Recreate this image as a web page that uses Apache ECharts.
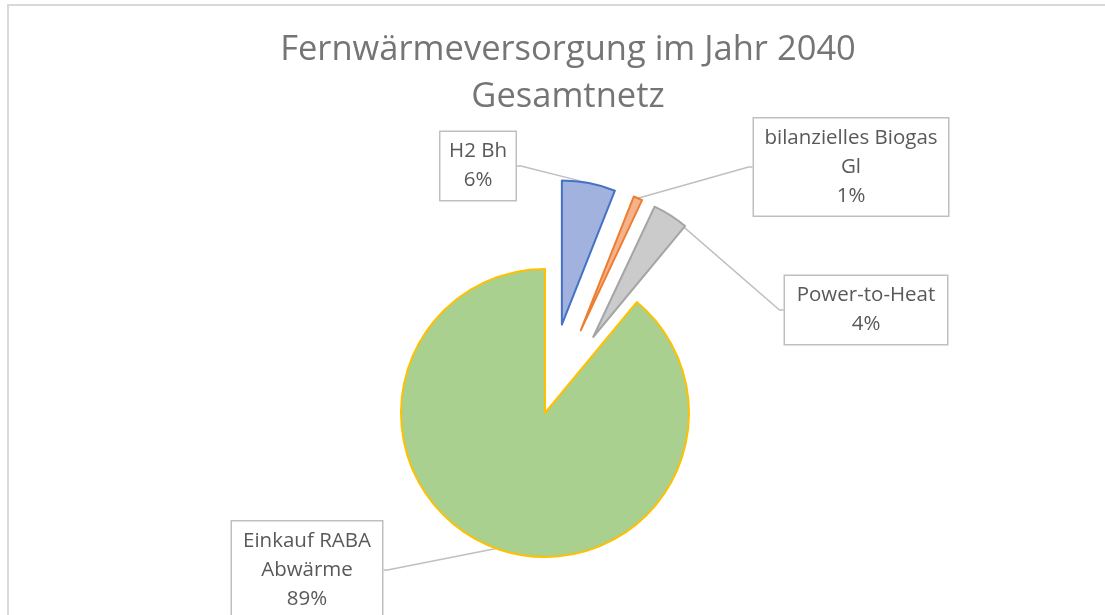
<!DOCTYPE html>
<html>
<head>
<meta charset="utf-8">
<script src="https://cdn.jsdelivr.net/npm/echarts@6/dist/echarts.min.js"></script>
<style>
  html, body { margin: 0; padding: 0; background: #fff; }
  #frame {
    position: absolute; left: 7px; top: 4px; width: 1200px; height: 700px;
    border-left: 2px solid #d9d9d9; border-top: 2px solid #d9d9d9;
  }
  #chart { position: absolute; left: 0; top: 0; width: 1105px; height: 615px; }
</style>
</head>
<body>
<div id="frame"></div>
<div id="chart"></div>
<script>
// Anteile der Wärmequellen (%)
const categories = ["H2 Bh", "bilanzielles Biogas\nGl", "Power-to-Heat", "Einkauf RABA\nAbwärme"];
const values = [6, 1, 4, 89];
const exploded = [true, true, true, false];

// Farben wie im Original (Füllung / Rand)
const fills = ["#a1b2de", "#f6b28a", "#cbcbcb", "#a9d08e"];
const borders = ["#4472c4", "#ed7d31", "#a5a5a5", "#ffc000"];

// Lage der Beschriftungskästen (Mittelpunkt, Breite)
const boxCenters = [[478, 166], [851, 167], [866, 310], [307, 570]];
const boxWidths = [75, 194, 162, 150];

const pieCenter = [545, 413];
const pieRadius = 144;
const explodeDist = 90;

const myChart = echarts.init(document.getElementById("chart"));

// jedes Segment als eigene Serie, damit herausgezogene Stücke einzeln verschoben werden können
const total = values.reduce((a, b) => a + b, 0);
let acc = 0;
const series = categories.map((name, i) => {
  const mid = (acc + values[i] / 2) / total * 2 * Math.PI; // im Uhrzeigersinn ab 12 Uhr
  acc += values[i];
  const d = exploded[i] ? explodeDist : 0;
  const c = [pieCenter[0] + d * Math.sin(mid), pieCenter[1] - d * Math.cos(mid)];
  return {
    type: "pie",
    center: c,
    radius: pieRadius,
    startAngle: 90,
    clockwise: true,
    silent: true,
    emphasis: { disabled: true },
    label: {
      show: true,
      formatter: "{b}\n{d}%",
      fontFamily: "Open Sans",
      fontSize: 20.5,
      color: "#595959",
      lineHeight: 29,
      align: "center",
      backgroundColor: "#fff",
      borderColor: "#bfbfbf",
      borderWidth: 1.5,
      padding: [5, 8, 5, 8]
    },
    labelLine: {
      show: true,
      length: 4,
      length2: 4,
      lineStyle: { color: "#bfbfbf", width: 1.5 }
    },
    labelLayout: function (params) {
      const bc = boxCenters[params.dataIndex];
      return { x: bc[0], y: bc[1], align: "center", verticalAlign: "middle" };
    },
    data: categories.map((n, j) => j === i
      ? {
          name: n,
          value: values[j],
          itemStyle: { color: fills[j], borderColor: borders[j], borderWidth: 2 },
          label: { width: boxWidths[j] - 16 }
        }
      : {
          name: n,
          value: values[j],
          itemStyle: { color: "transparent", borderWidth: 0 },
          label: { show: false },
          labelLine: { show: false }
        })
  };
});

myChart.setOption({
  animation: false,
  title: {
    text: "Fernwärmeversorgung im Jahr 2040\nGesamtnetz",
    left: 568,
    top: 27,
    padding: 0,
    textAlign: "center",
    textStyle: {
      fontFamily: "Open Sans",
      fontSize: 34.5,
      fontWeight: "normal",
      color: "#757575",
      lineHeight: 47
    }
  },
  series: series
});
</script>
</body>
</html>
